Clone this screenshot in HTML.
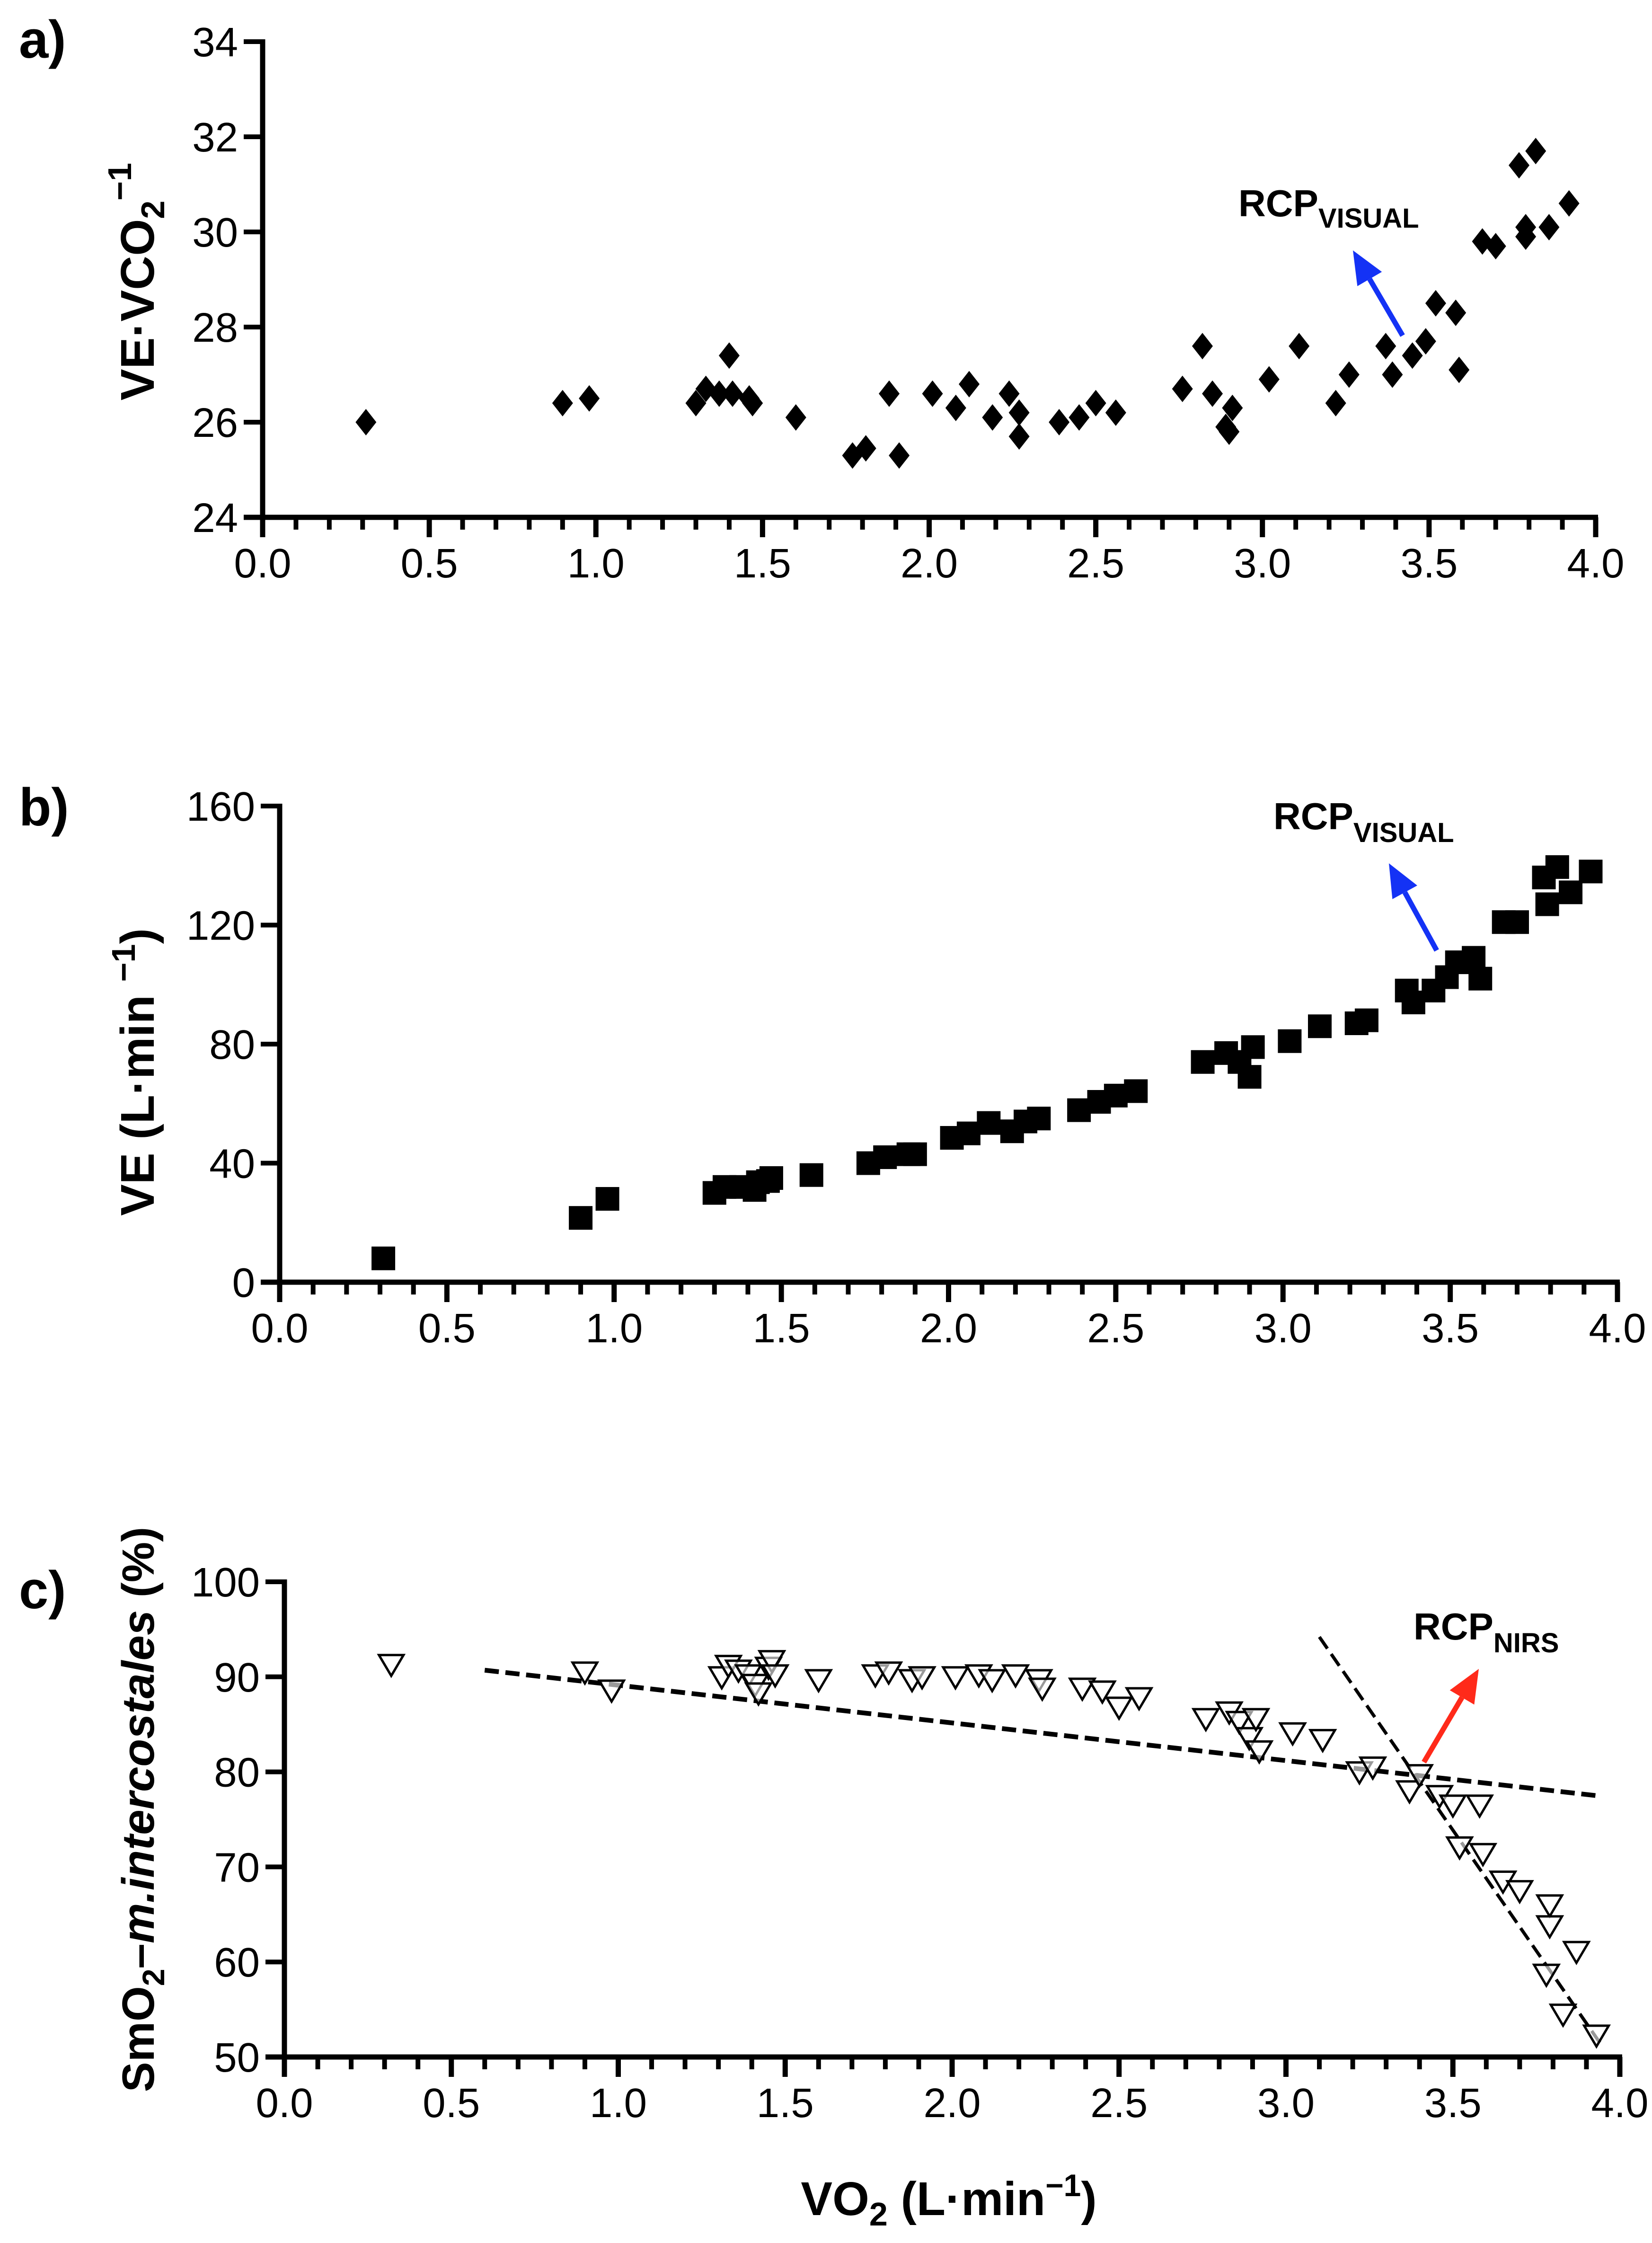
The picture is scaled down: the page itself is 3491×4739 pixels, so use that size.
<!DOCTYPE html>
<html><head><meta charset="utf-8"><style>html,body{margin:0;padding:0;background:#fff}svg{display:block}</style></head>
<body>
<svg id="fig" width="3491" height="4739" viewBox="0 0 3491 4739" xmlns="http://www.w3.org/2000/svg" font-family="'Liberation Sans', Arial, sans-serif">
<text x="40" y="122" font-size="112" font-weight="bold">a)</text>
<text x="40" y="1744" font-size="112" font-weight="bold">b)</text>
<text x="40" y="3398" font-size="112" font-weight="bold">c)</text>
<text transform="translate(325,595) rotate(-90)" text-anchor="middle" font-size="100" font-weight="bold">VE·VCO<tspan font-size="70" dy="22">2</tspan><tspan font-size="70" dy="-70">−1</tspan></text>
<text transform="translate(325,2265) rotate(-90)" text-anchor="middle" font-size="100" font-weight="bold">VE (L·min <tspan font-size="70" dy="-40">−1</tspan><tspan dy="40">)</tspan></text>
<text transform="translate(325,3823) rotate(-90)" text-anchor="middle" font-size="96" font-weight="bold">SmO<tspan font-size="66" dy="22">2</tspan><tspan dy="-22">–</tspan><tspan font-style="italic">m.intercostales</tspan> (%)</text>
<text x="2005" y="4680" text-anchor="middle" font-size="100" font-weight="bold">VO<tspan font-size="70" dy="22">2</tspan><tspan dy="-22"> (L·min</tspan><tspan font-size="66" dy="-40">−1</tspan><tspan dy="40">)</tspan></text>
<text x="2617" y="457" font-size="80" font-weight="bold">RCP<tspan font-size="58" dy="24">VISUAL</tspan></text>
<text x="2691" y="1752" font-size="80" font-weight="bold">RCP<tspan font-size="58" dy="27">VISUAL</tspan></text>
<text x="2987" y="3464" font-size="80" font-weight="bold">RCP<tspan font-size="58" dy="27">NIRS</tspan></text>
</svg>
<script>
// Panel a data
const aX = [0.31,0.90,0.98,1.30,1.33,1.37,1.40,1.41,1.46,1.47,1.60,1.77,1.81,1.88,1.91,2.01,2.08,2.12,2.19,2.24,2.27,2.27,2.39,2.45,2.50,2.56,2.76,2.82,2.85,2.89,2.90,2.91,3.02,3.11,3.22,3.26,3.37,3.39,3.45,3.49,3.52,3.58,3.59,3.66,3.70,3.77,3.79,3.79,3.82,3.86,3.92];
const aY = [26.0,26.4,26.5,26.4,26.7,26.6,27.4,26.6,26.5,26.4,26.1,25.3,25.45,26.6,25.3,26.6,26.3,26.8,26.1,26.6,26.2,25.7,26.0,26.1,26.4,26.2,26.7,27.6,26.6,25.9,25.8,26.3,26.9,27.6,26.4,27.0,27.6,27.0,27.4,27.7,28.5,28.3,27.1,29.8,29.7,31.4,29.9,30.1,31.7,30.1,30.6];
const aTicks = [24,26,28,30,32,34];
// Panel b data
const bX = [0.31,0.90,0.98,1.30,1.33,1.38,1.42,1.43,1.46,1.47,1.59,1.76,1.81,1.88,1.90,2.01,2.06,2.12,2.19,2.23,2.27,2.39,2.45,2.50,2.56,2.76,2.83,2.87,2.90,2.91,3.02,3.11,3.22,3.25,3.37,3.39,3.45,3.49,3.52,3.57,3.59,3.66,3.70,3.78,3.79,3.82,3.86,3.92];
const bY = [8,21.6,28,30,32,32,31,33.6,34,35,36,40,42,43,43,48.5,50,53.5,50.7,54,55,57.8,60.6,62.7,64.2,74,77,74,69,79,81,86,87,88,98,94,98,102.5,107.5,109,102,121,121,136,127,139.5,131,138];
const bTicks = [0,40,80,120,160];
// Panel c data
const cX = [0.32,0.90,0.98,1.31,1.33,1.36,1.39,1.41,1.42,1.45,1.46,1.47,1.60,1.77,1.81,1.88,1.91,2.01,2.08,2.12,2.19,2.26,2.27,2.39,2.45,2.50,2.56,2.76,2.83,2.86,2.89,2.91,2.92,3.02,3.11,3.22,3.26,3.37,3.40,3.46,3.50,3.58,3.52,3.59,3.65,3.70,3.79,3.79,3.78,3.83,3.87,3.93];
const cY = [91.3,90.5,88.6,90.0,91.2,90.7,90.2,89.2,88.3,91.0,91.7,90.2,89.7,90.2,90.5,89.7,90.0,90.0,90.2,89.7,90.2,89.7,88.8,88.8,88.5,86.8,87.8,85.6,86.3,85.3,83.6,85.6,82.2,84.1,83.4,80.0,80.5,78.0,79.7,77.5,76.5,76.5,72.1,71.4,68.5,67.5,66.0,63.8,58.7,54.5,61.1,52.3];
const cTicks = [50,60,70,80,90,100];
const cFit1X = [0.6,3.93];
const cFit1Y = [90.7,77.5];
const cFit2X = [3.1,3.95];
const cFit2Y = [94.2,51.0];
const xTicks = [0,0.5,1,1.5,2,2.5,3,3.5,4];

const NS='http://www.w3.org/2000/svg';
const svg=document.getElementById('fig');
function mk(tag,attrs,parent){const e=document.createElementNS(NS,tag);for(const k in attrs)e.setAttribute(k,attrs[k]);(parent||svg).appendChild(e);return e;}

function panel(name,x0,x1,yTop,yBot,ymin,ymax,yticks){
  const g=mk('g',{});
  
  
  const sx=v=>x0+(x1-x0)*v/4;
  const sy=v=>yBot-(yBot-yTop)*(v-ymin)/(ymax-ymin);
  const yax=mk('line',{x1:x0,y1:yTop-5,x2:x0,y2:yBot+42,stroke:'#000','stroke-width':11},g);
  
  
  const xax=mk('line',{x1:x0-40,y1:yBot,x2:x1+5,y2:yBot,stroke:'#000','stroke-width':11},g);
  
  
  for(let i=0;i<=40;i++){
    const major=i%5===0;
    const t=mk('line',{x1:sx(i/10),y1:yBot,x2:sx(i/10),y2:yBot+(major?42:26),stroke:'#000','stroke-width':major?11:10},g);
    
    
  }
  xTicks.forEach(v=>{
    const t=mk('text',{x:sx(v),y:yBot+127,'text-anchor':'middle','font-size':87},g);
    t.textContent=v.toFixed(1);
    
    
  });
  yticks.forEach(v=>{
    const t=mk('line',{x1:x0-40,y1:sy(v),x2:x0,y2:sy(v),stroke:'#000','stroke-width':10},g);
    
    
    const l=mk('text',{x:x0-52,y:sy(v)+31,'text-anchor':'end','font-size':87},g);
    l.textContent=v;
    
    
  });
  return {g,sx,sy};
}

// Panel a
const A=panel('panel-a',555,3372,88,1093,24,34,aTicks);
aX.forEach((x,i)=>{
  const cx=A.sx(x),cy=A.sy(aY[i]);
  const p=mk('polygon',{points:`${cx},${cy-28} ${cx+22},${cy} ${cx},${cy+28} ${cx-22},${cy}`,fill:'#000'},A.g);
  
  
});
// Panel b
const B=panel('panel-b',591,3418,1703,2709,0,160,bTicks);
bX.forEach((x,i)=>{
  const cx=B.sx(x),cy=B.sy(bY[i]);
  const r=mk('rect',{x:cx-25,y:cy-25,width:50,height:50,fill:'#000'},B.g);
  
  
});
// Panel c
const C=panel('panel-c',601,3423,3342,4346,50,100,cTicks);
const f1=mk('line',{x1:C.sx(cFit1X[0]),y1:C.sy(cFit1Y[0]),x2:C.sx(cFit1X[1]),y2:C.sy(cFit1Y[1]),stroke:'#000','stroke-width':10,'stroke-dasharray':'30 14'},C.g);


const f2=mk('line',{x1:C.sx(cFit2X[0]),y1:C.sy(cFit2Y[0]),x2:C.sx(cFit2X[1]),y2:C.sy(cFit2Y[1]),stroke:'#000','stroke-width':7,'stroke-dasharray':'30 14'},C.g);


cX.forEach((x,i)=>{
  const cx=C.sx(x),cy=C.sy(cY[i]);
  const p=mk('polygon',{points:`${cx-26},${cy-20} ${cx+26},${cy-20} ${cx},${cy+24}`,fill:'#fff','fill-opacity':0.6,stroke:'#000','stroke-width':5},C.g);
  
  
});

// arrows
function arrow(name,x1,y1,x2,y2,color){
  const g=mk('g',{});
  
  
  const dx=x2-x1,dy=y2-y1,L=Math.hypot(dx,dy),ux=dx/L,uy=dy/L,hl=70,hw=30;
  const bx=x2-ux*hl,by=y2-uy*hl;
  mk('line',{x1:x1,y1:y1,x2:bx,y2:by,stroke:color,'stroke-width':11},g);
  mk('polygon',{points:`${x2},${y2} ${bx-uy*hw},${by+ux*hw} ${bx+uy*hw},${by-ux*hw}`,fill:color},g);
}
arrow('rcp-arrow-a',2964,709,2859,529,'#1432f5');
arrow('rcp-arrow-b',3036,2008,2935,1824,'#1432f5');
arrow('rcp-arrow-c',3009,3723,3125,3526,'#ff2a1a');
</script>
</body></html>
